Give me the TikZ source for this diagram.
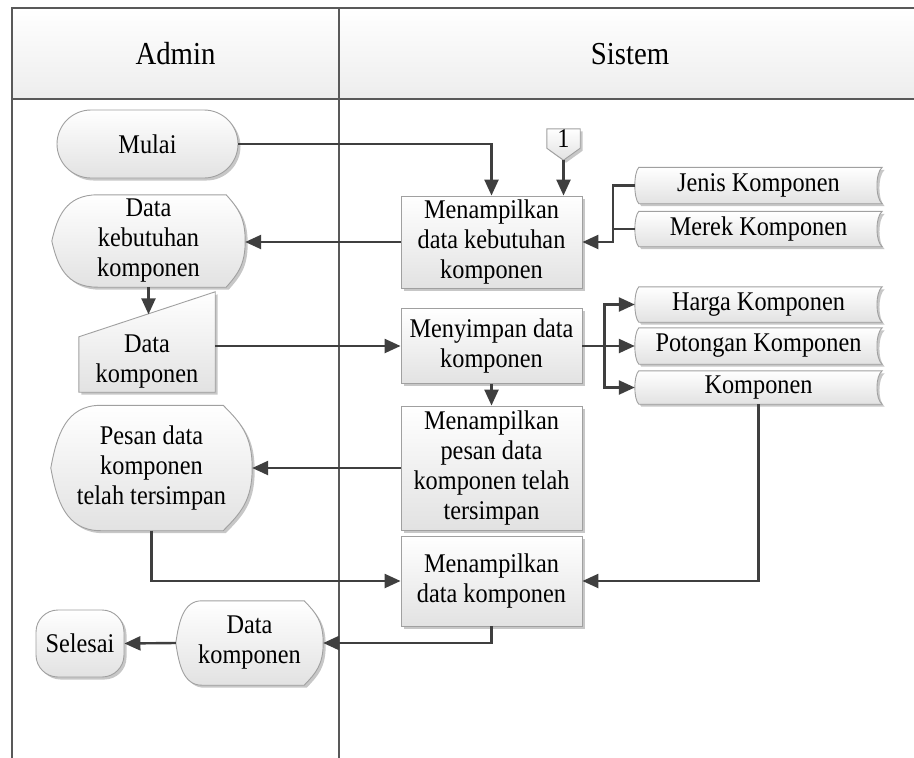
\documentclass[tikz,border=0pt]{standalone}
\usepackage{fontspec}
\setmainfont{Liberation Serif}[FakeStretch=0.9]
\usetikzlibrary{arrows.meta,shadows,backgrounds,calc}

\pgfdeclarelayer{symbols}
\pgfsetlayers{background,symbols,main}

\definecolor{flowline}{HTML}{3F3F3F}
\definecolor{laneline}{HTML}{595959}
\definecolor{shapeedge}{HTML}{A0A0A0}
\definecolor{shapebot}{HTML}{E2E2E2}
\definecolor{headbot}{HTML}{EDEDED}

\tikzset{
  txt/.style={font=\fontsize{27}{30}\selectfont, align=center, inner sep=0pt, text=black},
  shadowed/.style={drop shadow={shadow xshift=2.5pt, shadow yshift=-2.5pt, fill=black, opacity=0.22}},
  skin/.style={draw=shapeedge, line width=0.9pt, top color=white, bottom color=shapebot, shadowed},
  procbox/.style={txt, skin, minimum width=181, minimum height=#1},
  holder/.style={txt, minimum width=#1},
  flow/.style={draw=flowline, line width=2.4pt, -{Triangle[length=16pt,width=14pt]}},
  link/.style={draw=flowline, line width=2.4pt},
  lane/.style={draw=laneline, line width=1.8pt},
  head/.style={font=\fontsize{32}{36}\selectfont, inner sep=0pt},
}

% display symbol: #2 = width of the curved left end, #3 = bulge of the right arc
\newcommand\displayshape[3]{%
  \path[skin] let \p1=(#1.north west), \p2=(#1.south east),
    \n2={\y1-\y2}, \n3={(\y1+\y2)/2} in
    (\x1+#2,\y1) -- (\x2-#3,\y1)
    .. controls (\x2-0.4*#3,\y1-0.14*\n2) and (\x2,\n3+0.26*\n2) .. (\x2,\n3)
    .. controls (\x2,\n3-0.26*\n2) and (\x2-0.4*#3,\y2+0.14*\n2) .. (\x2-#3,\y2)
    -- (\x1+#2,\y2)
    .. controls (\x1+0.3*#2,\y2) and (\x1+0.12*#2,\n3-0.26*\n2) .. (\x1,\n3)
    .. controls (\x1+0.12*#2,\n3+0.26*\n2) and (\x1+0.3*#2,\y1) .. (\x1+#2,\y1) -- cycle;}

% manual input symbol: slanted top edge
\newcommand\manualshape[2]{%
  \path[skin] (#1.south west) -- ($(#1.north west)+(0,#2)$) -- (#1.north east)
    -- (#1.south east) -- cycle;}

% stored data symbol: convex left side, concave right side
\newcommand\storeshape[1]{%
  \path[skin] let \p1=(#1.north west), \p2=(#1.south east), \n2={\y1-\y2} in
    (\x1+4,\y1) -- (\x2,\y1)
    .. controls (\x2-7,\y1-0.15*\n2) and (\x2-7,\y2+0.15*\n2) .. (\x2,\y2)
    -- (\x1+4,\y2)
    .. controls (\x1-1.3,\y2+0.15*\n2) and (\x1-1.3,\y1-0.15*\n2) .. (\x1+4,\y1) -- cycle;}

% off-page connector: box with a pointed bottom
\newcommand\offpageshape[2]{%
  \path[skin] (#1.north west) -- (#1.north east) -- (#1.south east)
    -- (#2) -- (#1.south west) -- cycle;}

\begin{document}
\begin{tikzpicture}[x=1pt, y=-1pt]
  \useasboundingbox (0,0) rectangle (914,758);
  \begin{pgfonlayer}{background}
    \fill[white] (0,0) rectangle (914,758);
    \path[top color=white, bottom color=headbot] (12,8) rectangle (930,99);
  \end{pgfonlayer}

  % swimlane frame and header
  \draw[lane] (12,770) -- (12,8) -- (930,8);
  \draw[lane, line width=2.2pt] (12,99) -- (930,99);
  \draw[lane] (339,8) -- (339,770);
  \node[head] (hadmin) at (175.5,54) {Admin};
  \node[head] (hsistem) at (630,54) {Sistem};

  % Admin lane
  \node[txt, skin, minimum width=181, minimum height=68, rounded corners=34]
    (mulai) at (147.5,144) {Mulai};
  \node[holder=193, minimum height=92] (dk) at (148.5,241) {Data\\kebutuhan\\komponen};
  \node[holder=136, minimum height=100] (mi) at (147,342) {};
  \node[txt] (mitext) at (147,362) {Data\\komponen};
  \coordinate (mitop) at ($(mi.north)+(0,22.5)$);
  \node[holder=201, minimum height=125] (pesan) at (151.5,468) {Pesan data\\komponen\\telah tersimpan};
  \node[txt, skin, minimum width=88, minimum height=67, rounded corners=22]
    (selesai) at (80,643.5) {Selesai};
  \node[holder=147, minimum height=84] (datak) at (249.5,643) {Data\\komponen};

  % Sistem lane
  \node[holder=33, minimum height=19] (op) at (563.5,138.5) {1};
  \coordinate (optip) at ($(op.south)+(0,12)$);
  \node[procbox=92] (p1) at (491.5,242) {Menampilkan\\data kebutuhan\\komponen};
  \node[procbox=75] (p2) at (491.5,346) {Menyimpan data\\komponen};
  \node[procbox=124] (p3) at (491.5,468) {Menampilkan\\pesan data\\komponen telah\\tersimpan};
  \node[procbox=90] (p4) at (491.5,581) {Menampilkan\\data komponen};

  \node[holder=247, minimum height=36] (jenis) at (758.5,185.5) {Jenis Komponen};
  \node[holder=247, minimum height=35] (merek) at (758.5,229) {Merek Komponen};
  \node[holder=247, minimum height=35] (harga) at (758.5,304.5) {Harga Komponen};
  \node[holder=247, minimum height=36] (potongan) at (758.5,346) {Potongan Komponen};
  \node[holder=247, minimum height=33] (komp) at (758.5,387.5) {Komponen};

  % symbol outlines behind their labels
  \begin{pgfonlayer}{symbols}
    \displayshape{dk}{46}{19}
    \manualshape{mi}{45}
    \displayshape{pesan}{50}{29}
    \displayshape{datak}{26}{19}
    \offpageshape{op}{optip}
    \storeshape{jenis}
    \storeshape{merek}
    \storeshape{harga}
    \storeshape{potongan}
    \storeshape{komp}
  \end{pgfonlayer}

  % flow connectors
  \draw[flow] (mulai.east) -| (p1.north);
  \draw[flow] (optip) -- (optip |- p1.north);
  \coordinate (jx) at ($(jenis.west)+(-22,0)$);
  \draw[flow] (jenis.west) -- (jx) |- (p1.east);
  \draw[link] (merek.west) -- (merek.west -| jx);
  \draw[flow] (p1.west) -- (dk.east |- p1.west);
  \draw[flow] (dk.south) -- (dk.south |- mitop);
  \draw[flow] (mi.east |- p2.west) -- (p2.west);
  \coordinate (hx) at ($(p2.east)+(22,0)$);
  \draw[flow] (p2.east) -- (potongan.west);
  \draw[flow] (hx) |- (harga.west);
  \draw[flow] (hx) |- (komp.west);
  \draw[flow] (p2.south) -- (p3.north);
  \draw[flow] (p3.west) -- (pesan.east |- p3.west);
  \draw[flow] (pesan.south) |- (p4.west);
  \draw[flow] (komp.south) |- (p4.east);
  \draw[flow] (p4.south) |- (datak.east);
  \draw[flow] (datak.west) -- (selesai.east);
\end{tikzpicture}
\end{document}
